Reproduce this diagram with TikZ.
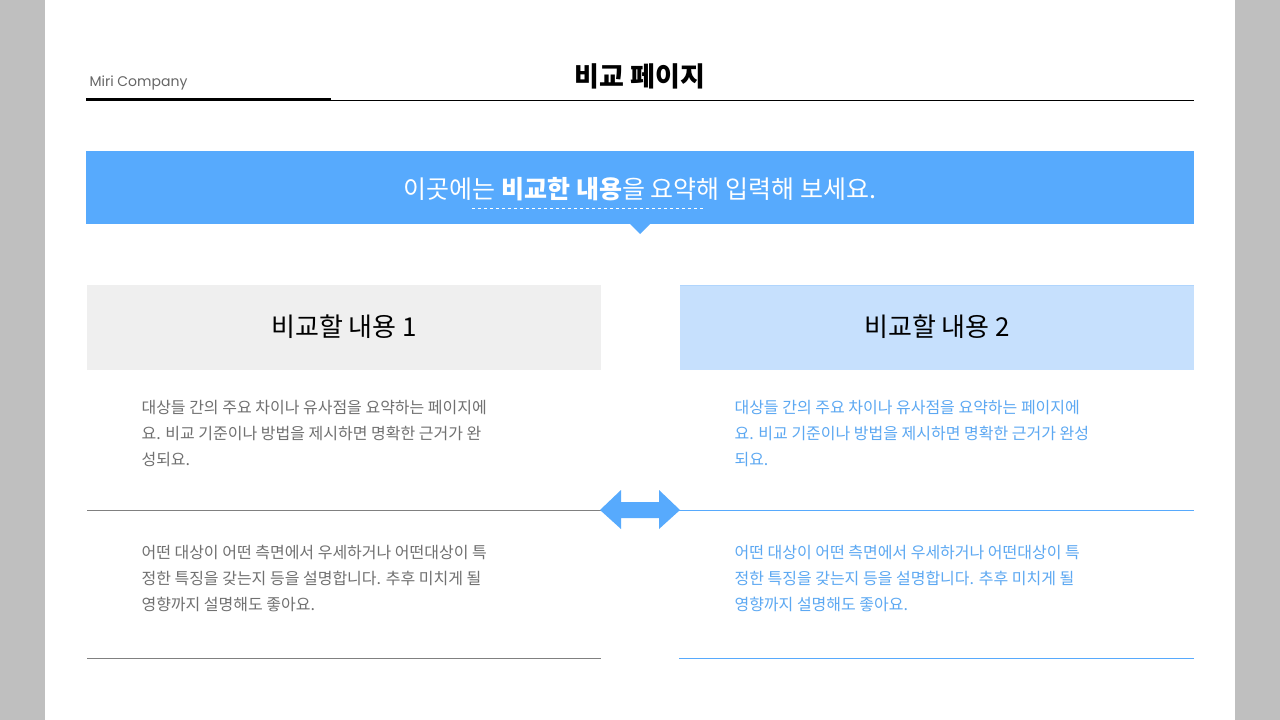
\documentclass[tikz,border=0pt]{standalone}
\usepackage{fontspec}
\setmainfont{Noto Sans CJK KR}
\newfontfamily\latinf{Poppins}
\definecolor{mblue}{HTML}{57AAFD}
\definecolor{lblue}{HTML}{C6E0FD}
\definecolor{lgray}{HTML}{EFEFEF}
\definecolor{tgray}{HTML}{707070}
\definecolor{tblue}{HTML}{5CA8F2}
\begin{document}
\begin{tikzpicture}[x=1pt,y=-1pt,
  body/.style={anchor=north west,align=left,font=\fontsize{16}{26}\selectfont},
  head/.style={font=\fontsize{26}{30}\selectfont,text=black}]
\useasboundingbox (0,0) rectangle (1280,720);
\fill[black!25] (0,0) rectangle (1280,720);
\fill[white] (45,0) rectangle (1235,720);
\node[anchor=base west,font=\latinf\fontsize{14}{16}\selectfont,text=black!60] (co) at (86,86) {Miri Company};
\node[anchor=base,font=\fontsize{27}{30}\selectfont\bfseries] (ti) at (640,86) {비교 페이지};
\draw[line width=2.5pt] (86,99.5) -- (331,99.5);
\draw[line width=1pt] (331,100.5) -- (1194,100.5);
\fill[mblue] (86,151) rectangle (1194,224);
\fill[mblue] (630,224) -- (650,224) -- (640,234) -- cycle;
\node[text=white,font=\fontsize{25}{30}\selectfont] (sum) at (640,189) {이곳에는 \textbf{비교한 내용}을 요약해 입력해 보세요.};
\draw[white,dashed,line width=0.7pt] (472,208) -- (705,208);
\fill[lgray] (87,285) rectangle (601,370);
\fill[lblue] (680,285) rectangle (1194,370);
\draw[lblue!80!mblue] (680,285.5) -- (1194,285.5);
\node[head] (h1) at (344,327) {비교할 내용 1};
\node[head] (h2) at (937,327) {비교할 내용 2};
\node[body,text=tgray] (a1) at (138,397) {대상들 간의 주요 차이나 유사점을 요약하는 페이지에\\요. 비교 기준이나 방법을 제시하면 명확한 근거가 완\\성되요.};
\node[body,text=tblue] (b1) at (731,397) {대상들 간의 주요 차이나 유사점을 요약하는 페이지에\\요. 비교 기준이나 방법을 제시하면 명확한 근거가 완성\\되요.};
\node[body,text=tgray] (a2) at (138,542) {어떤 대상이 어떤 측면에서 우세하거나 어떤대상이 특\\정한 특징을 갖는지 등을 설명합니다. 추후 미치게 될\\영향까지 설명해도 좋아요.};
\node[body,text=tblue] (b2) at (731,542) {어떤 대상이 어떤 측면에서 우세하거나 어떤대상이 특\\정한 특징을 갖는지 등을 설명합니다. 추후 미치게 될\\영향까지 설명해도 좋아요.};
\draw[gray] (87,510.5) -- (601,510.5);
\draw[mblue] (679,510.5) -- (1194,510.5);
\draw[gray] (87,658.5) -- (601,658.5);
\draw[mblue] (679,658.5) -- (1194,658.5);
\fill[mblue] (600,510) -- (621,490) -- (621,502) -- (659,502) -- (659,490) -- (680,510) -- (659,529) -- (659,518) -- (621,518) -- (621,529) -- cycle;
\end{tikzpicture}
\end{document}
